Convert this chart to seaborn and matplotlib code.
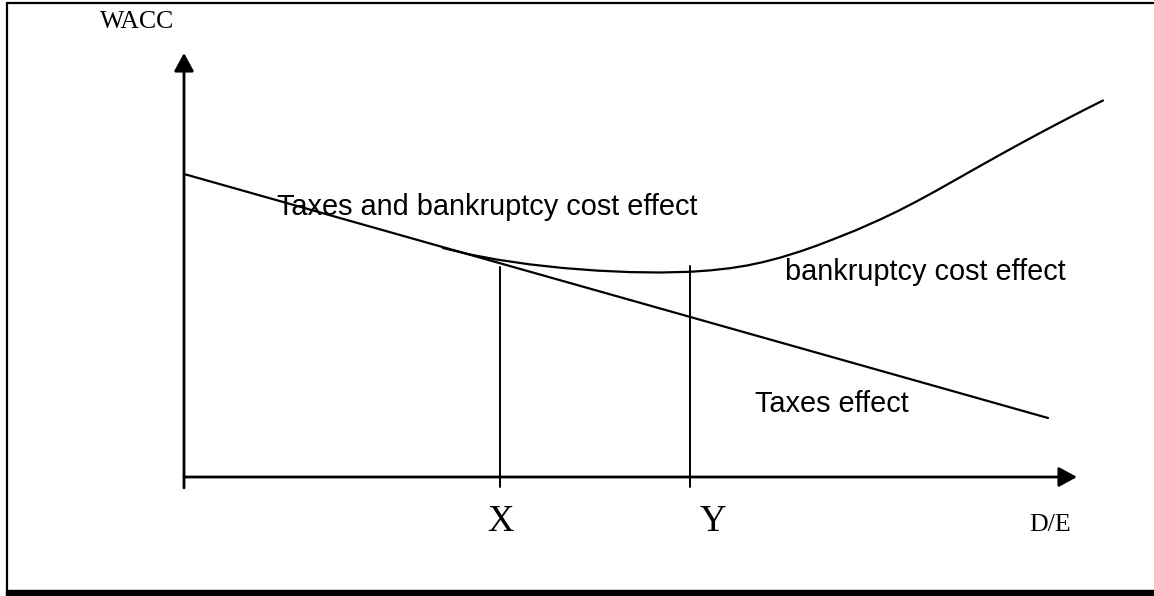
import matplotlib
matplotlib.use("Agg")
import matplotlib.pyplot as plt
import seaborn as sns
from matplotlib.lines import Line2D
from matplotlib.patches import Rectangle

sns.set_theme(style="white")
plt.rcParams['font.family'] = ['Liberation Sans', 'DejaVu Sans']
plt.rcParams['text.color'] = 'black'

# taxes effect: straight WACC line (D/E, WACC)
taxes_de = [0.0, 8.64]
taxes_wacc = [3.03, 0.59]

# taxes + bankruptcy cost curve
curve_de = [2.59, 2.86, 3.13, 3.46, 3.79, 4.13, 4.46, 4.76, 5.06, 5.26, 5.46,
            5.63, 5.79, 5.96, 6.16, 6.32, 6.49, 6.72, 6.96, 7.14, 7.33, 7.53,
            7.73, 7.94, 8.16, 8.36, 8.56, 8.73, 8.89, 9.04, 9.19]
curve_wacc = [2.29, 2.225, 2.174, 2.126, 2.090, 2.064, 2.049, 2.045, 2.052, 2.066, 2.088,
              2.115, 2.149, 2.193, 2.255, 2.311, 2.376, 2.468, 2.574, 2.660, 2.758, 2.867,
              2.980, 3.099, 3.222, 3.332, 3.440, 3.530, 3.613, 3.690, 3.765]

# marked leverage points and where their verticals stop
point_labels = ['X', 'Y']
point_de = [3.16, 5.06]
point_top = [2.10, 2.11]
point_label_de = [3.16, 5.29]

fig = plt.figure(figsize=(11.54, 5.96), dpi=100)
ax = fig.add_axes([0, 0, 1, 1])
ax.set_xlim(-1.84, 9.70)
ax.set_ylim(-1.19, 4.77)
ax.axis('off')

# axes with arrow heads
arrow = dict(arrowstyle='-|>,head_length=0.55,head_width=0.3', mutation_scale=20,
             color='black', lw=2.0, shrinkA=0, shrinkB=0)
ax.annotate('', xy=(0, 4.24), xytext=(0, -0.11), arrowprops=arrow)
ax.annotate('', xy=(8.93, 0), xytext=(0, 0), arrowprops=arrow)

sns.lineplot(x=taxes_de, y=taxes_wacc, ax=ax, color='black', lw=1.6)
sns.lineplot(x=curve_de, y=curve_wacc, ax=ax, color='black', lw=1.6, sort=False,
             solid_joinstyle='round')

for lab, d, top, ld in zip(point_labels, point_de, point_top, point_label_de):
    ax.plot([d, d], [-0.10, top], color='black', lw=1.4)
    ax.text(ld, -0.54, lab, ha='center', va='baseline', fontsize=26.5,
            family='Liberation Serif')

ax.text(0.93, 2.62, 'Taxes and bankruptcy cost effect', fontsize=20.8, va='baseline')
ax.text(6.01, 1.97, 'bankruptcy cost effect', fontsize=20.8, va='baseline')
ax.text(5.71, 0.65, 'Taxes effect', fontsize=20.8, va='baseline')
ax.text(-0.84, 4.49, 'WACC', fontsize=18.5, va='baseline', family='Liberation Serif')
ax.text(8.45, -0.54, 'D/E', fontsize=18.7, va='baseline', family='Liberation Serif')

# frame around the figure
W, H = 1154, 596
fig.add_artist(Line2D([7 / W, 7 / W], [6 / H, 1 - 3 / H], color='black', lw=1.6,
                      transform=fig.transFigure))
fig.add_artist(Line2D([7 / W, 1], [1 - 3 / H, 1 - 3 / H], color='black', lw=1.6,
                      transform=fig.transFigure))
fig.add_artist(Rectangle((6 / W, 0), 1, 6 / H, color='black',
                         transform=fig.transFigure))

fig.savefig('out.png', dpi=100)
